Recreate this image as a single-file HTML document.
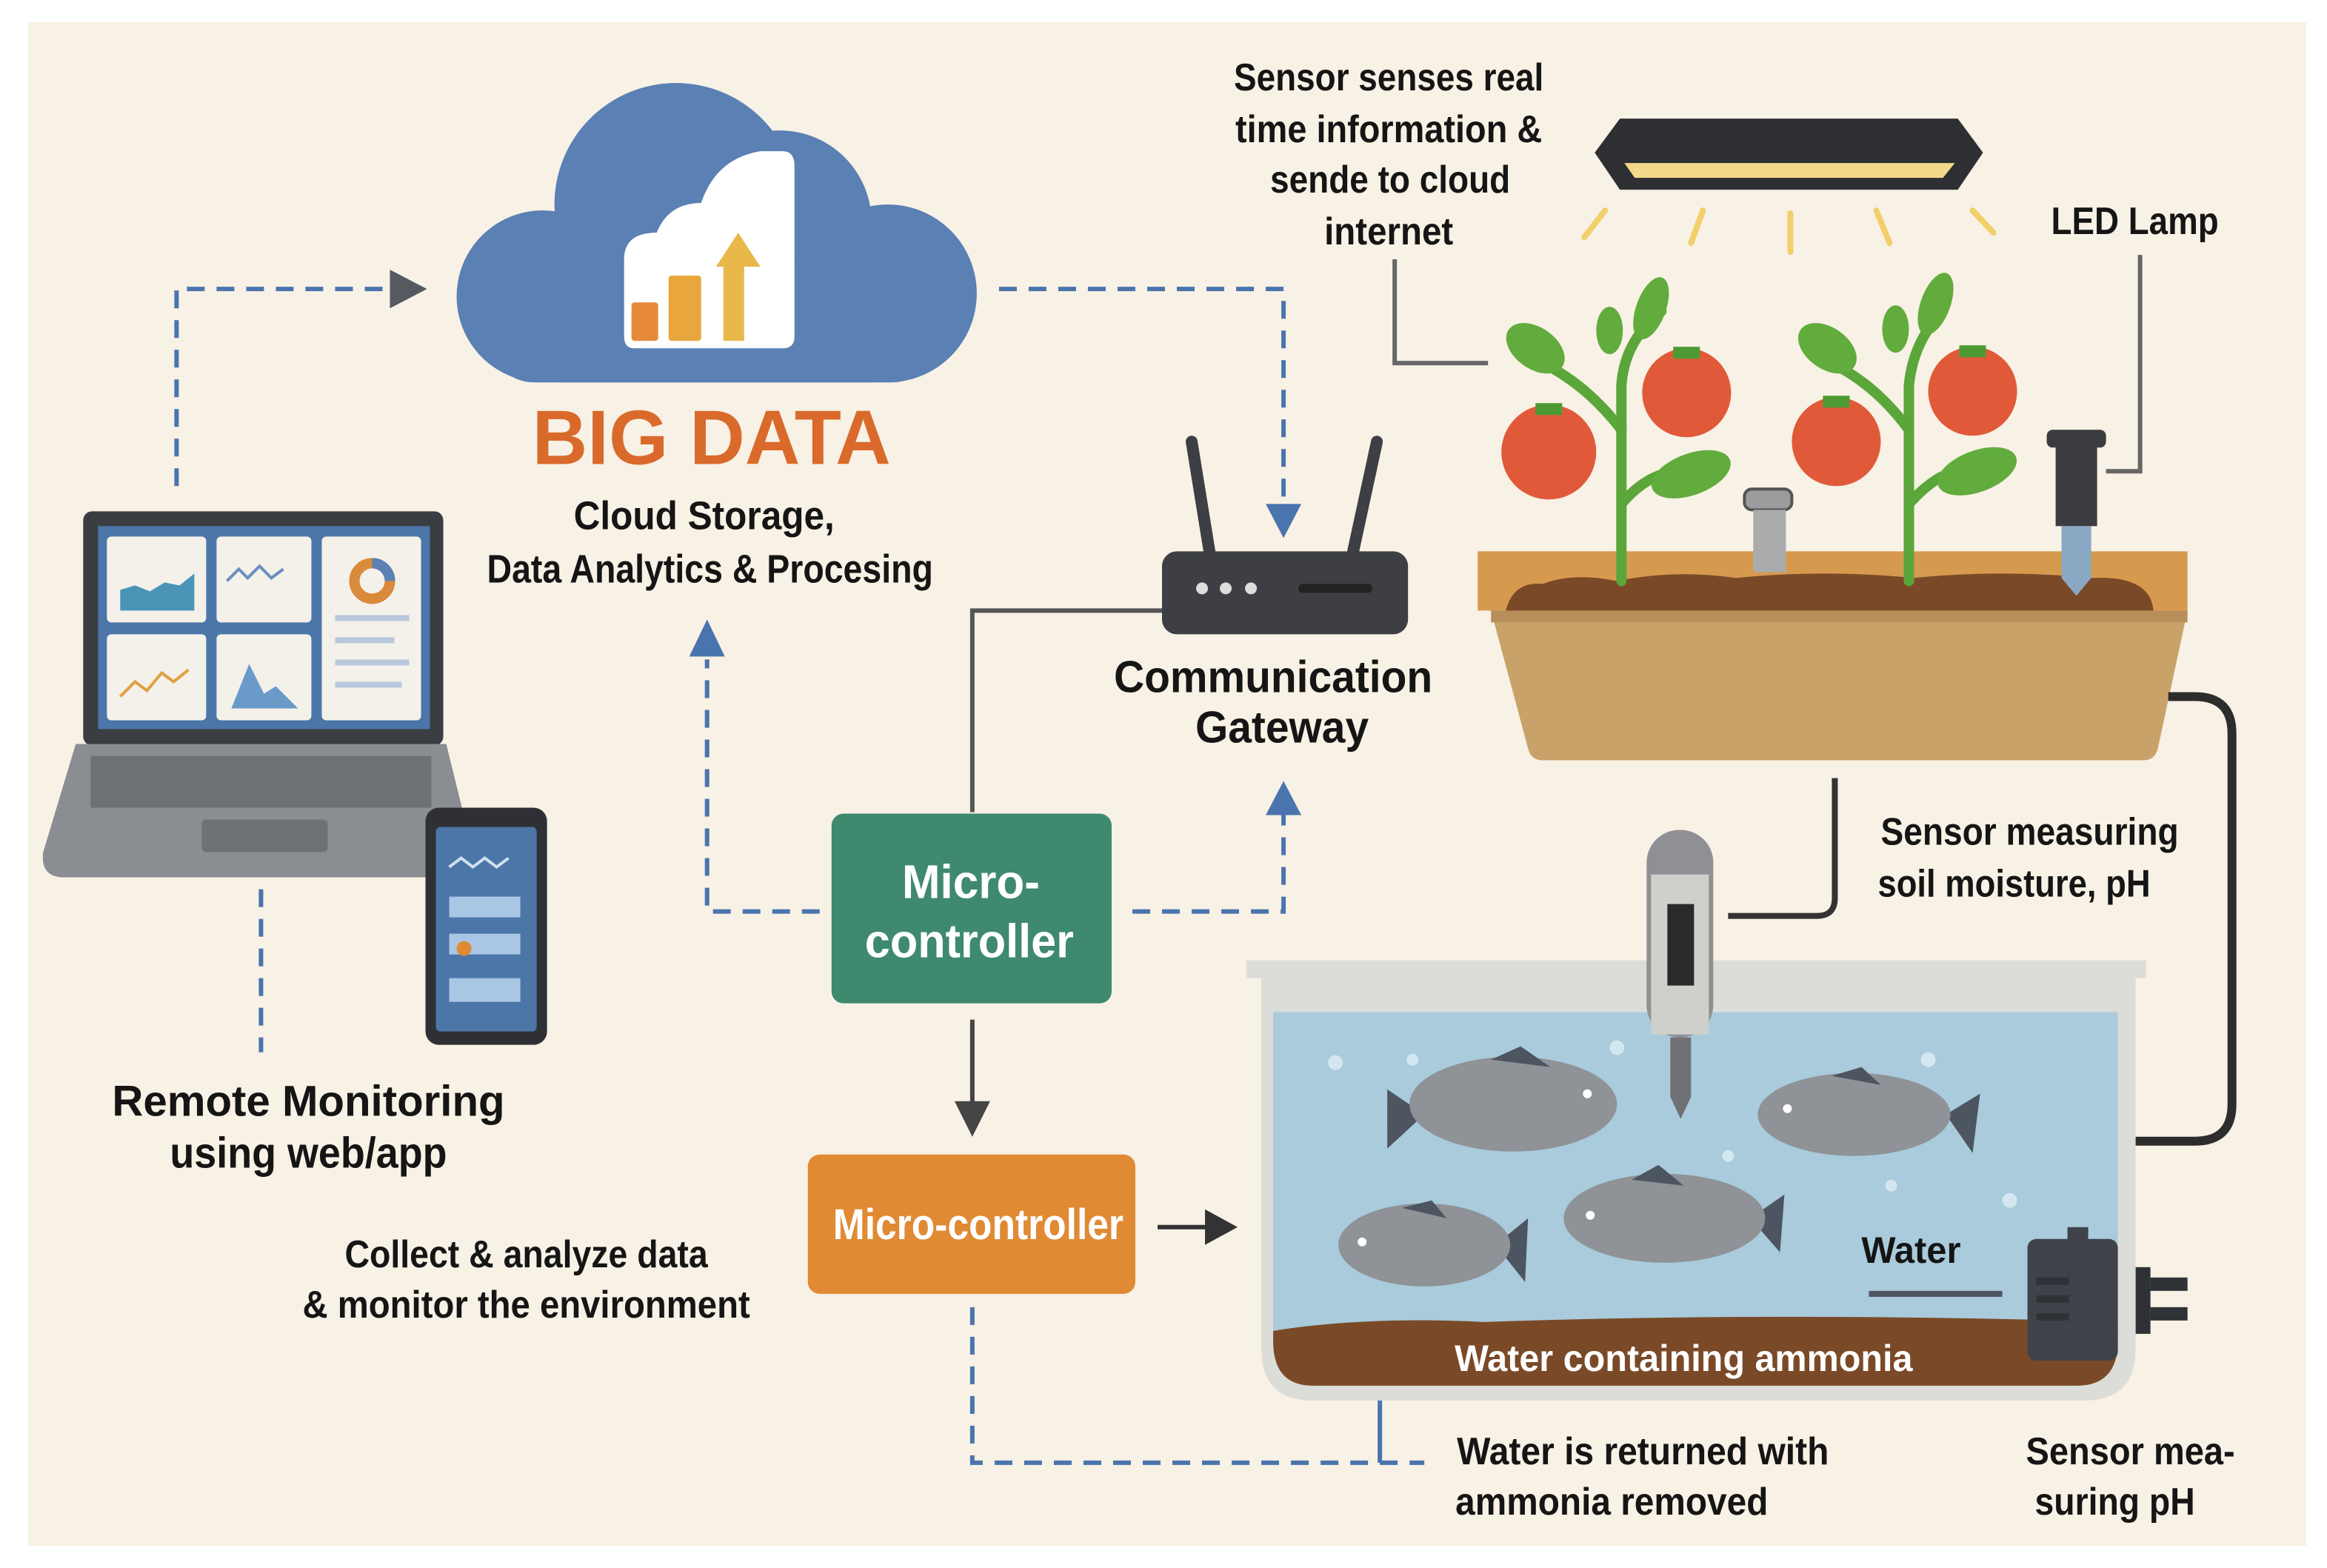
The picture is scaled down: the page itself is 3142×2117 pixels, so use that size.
<!DOCTYPE html>
<html><head><meta charset="utf-8"><style>
html,body{margin:0;padding:0;background:#fff;width:3142px;height:2117px;overflow:hidden}
svg{display:block}
text{font-family:"Liberation Sans",sans-serif;font-weight:bold;fill:#151515}
</style></head><body>
<svg width="3142" height="2117" viewBox="0 0 1568 1058" xmlns="http://www.w3.org/2000/svg">
<rect x="0" y="0" width="1568" height="1058" fill="#fff"/>
<rect x="18" y="15" width="1537" height="1028" fill="#f8f1e5"/>

<!-- Cloud -->
<g fill="#5a80b4">
<circle cx="455" cy="138" r="82"/>
<circle cx="365" cy="200" r="58"/>
<circle cx="525" cy="150" r="62"/>
<circle cx="598" cy="198" r="60"/>
<rect x="365" y="170" width="235" height="88" rx="10"/>
<rect x="330" y="200" width="300" height="58" rx="29"/>
</g>
<path d="M420 175 q0-18 22-18 q8-20 30-20 q10-30 40-35 h15 q8 0 8 10 v115 q0 8-8 8 h-100 q-7 0-7-8z" fill="#fff"/>
<rect x="425" y="204" width="18" height="26" rx="2" fill="#e68a3a"/>
<rect x="450" y="186" width="22" height="44" rx="2" fill="#e8a63c"/>
<rect x="487" y="178" width="14" height="52" fill="#e8b84a"/>
<polygon points="482,180 497,157 512,180" fill="#e8b84a"/>

<text x="479" y="313" font-size="52" text-anchor="middle" textLength="242" lengthAdjust="spacingAndGlyphs" style="fill:#d96a2b">BIG DATA</text>
<text x="474" y="357" font-size="27" text-anchor="middle" textLength="176" lengthAdjust="spacingAndGlyphs">Cloud Storage,</text>
<text x="478" y="393" font-size="27" text-anchor="middle" textLength="301" lengthAdjust="spacingAndGlyphs">Data Analytics &amp; Procesing</text>

<!-- dashed connectors -->
<g fill="none" stroke="#4a74ad" stroke-width="3" stroke-dasharray="12 8">
<path d="M118 328 V195 H262"/>
<path d="M673 195 H865 V340"/>
<path d="M552 615 H476 V445"/>
<path d="M763 615 H865 V550"/>
<path d="M175 600 V710"/>
<path d="M655 882 V987 H960"/>
</g>
<path d="M930 922 V987" stroke="#4a74ad" stroke-width="3"/>
<polygon points="262,182 287,195 262,208" fill="#555a60"/>
<polygon points="853,340 877,340 865,363" fill="#4a74ad"/>
<polygon points="464,443 488,443 476,418" fill="#4a74ad"/>
<polygon points="853,550 877,550 865,527" fill="#4a74ad"/>

<!-- Laptop -->
<rect x="55" y="345" width="243" height="158" rx="6" fill="#3a3d42"/>
<rect x="65" y="355" width="224" height="137" fill="#4c75a8"/>
<g fill="#f4f1ea">
<rect x="71" y="362" width="67" height="58" rx="3"/>
<rect x="145" y="362" width="64" height="58" rx="3"/>
<rect x="216" y="362" width="67" height="124" rx="3"/>
<rect x="71" y="428" width="67" height="58" rx="3"/>
<rect x="145" y="428" width="64" height="58" rx="3"/>
</g>
<path d="M80 412 V398 l10-3 10 4 10-6 10 2 10-8 V412z" fill="#4a94b8"/>
<path d="M152 392 l8-8 6 6 8-8 8 8 8-6" stroke="#6a8fbf" stroke-width="2" fill="none"/>
<circle cx="250" cy="392" r="12" fill="none" stroke="#d98a3a" stroke-width="7"/>
<path d="M250 380 a12 12 0 0 1 12 12" stroke="#5a80b4" stroke-width="7" fill="none"/>
<path d="M80 470 l10-10 8 6 10-12 8 6 10-8" stroke="#e0a040" stroke-width="2" fill="none"/>
<path d="M155 478 l12-30 10 20 8-5 15 15z" fill="#6a9ac8"/>
<g fill="#b8c8dc"><rect x="225" y="415" width="50" height="4"/><rect x="225" y="430" width="40" height="4"/><rect x="225" y="445" width="50" height="4"/><rect x="225" y="460" width="45" height="4"/></g>
<path d="M50 502 H300 L318 575 Q318 592 300 592 H42 Q26 592 28 575 Z" fill="#8a8d91"/>
<rect x="60" y="510" width="230" height="35" fill="#6e7175"/>
<rect x="135" y="553" width="85" height="22" rx="3" fill="#6e7175"/>
<!-- Phone -->
<rect x="286" y="545" width="82" height="160" rx="9" fill="#2e3035"/>
<rect x="293" y="558" width="68" height="138" rx="3" fill="#4c75a8"/>
<path d="M302 585 l8-6 8 6 8-6 8 6 8-6" stroke="#cfe0f0" stroke-width="2" fill="none"/>
<g fill="#a9c6e4"><rect x="302" y="605" width="48" height="14"/><rect x="302" y="630" width="48" height="14"/><rect x="302" y="660" width="48" height="16"/></g>
<circle cx="312" cy="640" r="5" fill="#e08a34"/>

<text x="207" y="753" font-size="29" text-anchor="middle" textLength="265" lengthAdjust="spacingAndGlyphs">Remote Monitoring</text>
<text x="207" y="788" font-size="29" text-anchor="middle" textLength="187" lengthAdjust="spacingAndGlyphs">using web/app</text>
<text x="354" y="855" font-size="26" text-anchor="middle" textLength="245" lengthAdjust="spacingAndGlyphs">Collect &amp; analyze data</text>
<text x="354" y="889" font-size="26" text-anchor="middle" textLength="302" lengthAdjust="spacingAndGlyphs">&amp; monitor the environment</text>

<!-- gateway links -->
<path d="M655 548 V412 H783" stroke="#555" stroke-width="3" fill="none"/>
<path d="M655 688 V745" stroke="#444" stroke-width="3"/>
<polygon points="643,743 667,743 655,767" fill="#444"/>
<path d="M780 828 H815" stroke="#333" stroke-width="3"/>
<polygon points="812,816 834,828 812,840" fill="#333"/>

<!-- Router -->
<path d="M815 372 L803 298" stroke="#3d3f44" stroke-width="8" stroke-linecap="round"/>
<path d="M912 372 L928 298" stroke="#3d3f44" stroke-width="8" stroke-linecap="round"/>
<rect x="783" y="372" width="166" height="56" rx="10" fill="#3d3f44"/>
<circle cx="810" cy="397" r="4" fill="#ddd"/><circle cx="826" cy="397" r="4" fill="#ddd"/><circle cx="843" cy="397" r="4" fill="#ddd"/>
<rect x="875" y="394" width="50" height="6" rx="3" fill="#222"/>
<text x="858" y="467" font-size="30" text-anchor="middle" textLength="215" lengthAdjust="spacingAndGlyphs">Communication</text>
<text x="864" y="501" font-size="30" text-anchor="middle" textLength="117" lengthAdjust="spacingAndGlyphs">Gateway</text>

<!-- Micro boxes -->
<rect x="560" y="549" width="189" height="128" rx="8" fill="#3f8a6e"/>
<text x="654" y="606" font-size="32" text-anchor="middle" textLength="93" lengthAdjust="spacingAndGlyphs" style="fill:#fff">Micro-</text>
<text x="653" y="646" font-size="32" text-anchor="middle" textLength="141" lengthAdjust="spacingAndGlyphs" style="fill:#fff">controller</text>
<rect x="544" y="779" width="221" height="94" rx="8" fill="#e08a34"/>
<text x="659" y="836" font-size="29" text-anchor="middle" textLength="196" lengthAdjust="spacingAndGlyphs" style="fill:#fff">Micro-controller</text>

<!-- top right text -->
<text x="936" y="61" font-size="26" text-anchor="middle" textLength="209" lengthAdjust="spacingAndGlyphs">Sensor senses real</text>
<text x="936" y="96" font-size="26" text-anchor="middle" textLength="207" lengthAdjust="spacingAndGlyphs">time information &amp;</text>
<text x="937" y="130" font-size="26" text-anchor="middle" textLength="162" lengthAdjust="spacingAndGlyphs">sende to cloud</text>
<text x="936" y="165" font-size="26" text-anchor="middle" textLength="87" lengthAdjust="spacingAndGlyphs">internet</text>
<path d="M940 175 V245 H1003" stroke="#666" stroke-width="3" fill="none"/>

<!-- LED Lamp -->
<path d="M1092 80 H1320 L1337 103 L1320 128 H1092 L1075 103 Z" fill="#2e2f33"/>
<path d="M1095 110 H1318 L1310 120 H1102 Z" fill="#f5d98a"/>
<g stroke="#f2cf6a" stroke-width="4" stroke-linecap="round">
<path d="M1082 142 L1068 160"/><path d="M1148 142 L1140 164"/><path d="M1207 144 V170"/><path d="M1265 142 L1274 164"/><path d="M1330 142 L1344 157"/>
</g>
<text x="1383" y="158" font-size="26" textLength="113" lengthAdjust="spacingAndGlyphs">LED Lamp</text>
<path d="M1443 172 V318 H1420" stroke="#666" stroke-width="3" fill="none"/>

<!-- Planter -->
<path d="M1005 412 H1475 L1455 505 Q1453 513 1445 513 H1040 Q1032 513 1030 505 Z" fill="#c9a26a"/>
<rect x="996" y="372" width="479" height="40" fill="#d69a4f"/>
<rect x="1005" y="412" width="470" height="8" fill="#b88f5a"/>
<path d="M1015 412 Q1020 392 1040 394 Q1060 386 1090 392 Q1130 384 1170 390 Q1230 384 1290 390 Q1350 384 1410 390 Q1450 388 1452 412 Z" fill="#7a4a28"/>
<g stroke="#5aa63a" stroke-width="7" fill="none" stroke-linecap="round">
<path d="M1093 392 V260 Q1095 230 1120 210"/><path d="M1093 290 Q1070 260 1040 245"/><path d="M1093 340 Q1110 320 1130 318"/>
<path d="M1287 392 V260 Q1290 230 1310 210"/><path d="M1287 290 Q1265 260 1235 245"/><path d="M1287 340 Q1305 320 1320 318"/>
</g>
<g fill="#62ac3e">
<ellipse cx="1035" cy="235" rx="22" ry="14" transform="rotate(35 1035 235)"/>
<ellipse cx="1113" cy="208" rx="10" ry="22" transform="rotate(20 1113 208)"/>
<ellipse cx="1085" cy="223" rx="9" ry="16"/>
<ellipse cx="1140" cy="320" rx="28" ry="14" transform="rotate(-20 1140 320)"/>
<ellipse cx="1232" cy="235" rx="22" ry="14" transform="rotate(35 1232 235)"/>
<ellipse cx="1305" cy="205" rx="10" ry="22" transform="rotate(20 1305 205)"/>
<ellipse cx="1278" cy="222" rx="9" ry="16"/>
<ellipse cx="1333" cy="318" rx="28" ry="14" transform="rotate(-20 1333 318)"/>
</g>
<g fill="#e05a3a">
<circle cx="1044" cy="305" r="32"/><circle cx="1137" cy="265" r="30"/><circle cx="1238" cy="298" r="30"/><circle cx="1330" cy="264" r="30"/>
</g>
<g fill="#4d9a34"><rect x="1035" y="272" width="18" height="8"/><rect x="1128" y="234" width="18" height="8"/><rect x="1229" y="267" width="18" height="8"/><rect x="1321" y="233" width="18" height="8"/></g>
<rect x="1176" y="330" width="32" height="14" rx="5" fill="#9a9c9e" stroke="#555" stroke-width="2"/>
<rect x="1182" y="344" width="22" height="42" fill="#a9abad"/>
<rect x="1380" y="290" width="40" height="12" rx="4" fill="#3a3c40"/>
<rect x="1386" y="300" width="28" height="55" fill="#3a3c40"/>
<polygon points="1390,355 1410,355 1410,390 1400,402 1390,390" fill="#8aa8c4"/>
<path d="M1462 470 H1480 Q1505 470 1505 495 V745 Q1505 770 1480 770 H1420 Q1400 770 1400 790 V830" stroke="#2d2d2d" stroke-width="6" fill="none"/>

<!-- Tank -->
<path d="M840 648 H1447 V660 H1440 V910 Q1440 945 1405 945 H885 Q850 945 850 910 V660 H840 Z" fill="#dcdcd8"/>
<rect x="858" y="683" width="570" height="222" fill="#a9cbdc"/>
<path d="M858 898 Q920 888 1000 892 Q1200 885 1428 892 V905 Q1428 935 1400 935 H885 Q858 935 858 905 Z" fill="#7a4a28"/>
<text x="1135" y="925" font-size="25" text-anchor="middle" textLength="309" lengthAdjust="spacingAndGlyphs" style="fill:#fff">Water containing ammonia</text>
<g fill="#d4e6ef"><circle cx="900" cy="717" r="5"/><circle cx="952" cy="715" r="4"/><circle cx="1300" cy="715" r="5"/><circle cx="1090" cy="707" r="5"/><circle cx="1355" cy="810" r="5"/><circle cx="1165" cy="780" r="4"/><circle cx="1275" cy="800" r="4"/><circle cx="1025" cy="838" r="4"/></g>
<g>
<polygon points="935,735 960,752 935,775" fill="#4d5560"/>
<ellipse cx="1020" cy="745" rx="70" ry="32" fill="#8f9296"/>
<path d="M1005 715 L1025 706 L1045 720Z" fill="#4d5560"/>
<circle cx="1070" cy="738" r="3" fill="#fff"/>
<polygon points="1335,738 1312,752 1330,778" fill="#4d5560"/>
<ellipse cx="1250" cy="752" rx="65" ry="28" fill="#8f9296"/>
<path d="M1235 726 L1255 720 L1268 732Z" fill="#4d5560"/>
<circle cx="1205" cy="748" r="3" fill="#fff"/>
<polygon points="1030,822 1008,840 1028,865" fill="#4d5560"/>
<ellipse cx="960" cy="840" rx="58" ry="28" fill="#8f9296"/>
<path d="M945 815 L965 810 L975 822Z" fill="#4d5560"/>
<circle cx="918" cy="838" r="3" fill="#fff"/>
<polygon points="1203,806 1180,822 1200,845" fill="#4d5560"/>
<ellipse cx="1122" cy="822" rx="68" ry="30" fill="#8f9296"/>
<path d="M1100 796 L1118 786 L1135 800Z" fill="#4d5560"/>
<circle cx="1072" cy="820" r="3" fill="#fff"/>
</g>
<rect x="1110" y="560" width="45" height="140" rx="22" fill="#8e9093"/>
<rect x="1113" y="590" width="39" height="108" fill="#cfcfcc"/>
<rect x="1124" y="610" width="18" height="55" fill="#2a2a2a"/>
<polygon points="1126,700 1140,700 1140,740 1133,755 1126,740" fill="#6f7174"/>
<path d="M1165 618 H1225 Q1237 618 1237 606 V525" stroke="#333" stroke-width="4" fill="none"/>
<text x="1268" y="570" font-size="26" textLength="201" lengthAdjust="spacingAndGlyphs">Sensor measuring</text>
<text x="1266" y="605" font-size="26" textLength="184" lengthAdjust="spacingAndGlyphs">soil moisture, pH</text>
<text x="1255" y="852" font-size="25" textLength="67" lengthAdjust="spacingAndGlyphs">Water</text>
<path d="M1260 873 H1350" stroke="#4d5560" stroke-width="4"/>
<rect x="1394" y="828" width="14" height="10" fill="#3f4349"/>
<rect x="1367" y="836" width="61" height="82" rx="6" fill="#3f4349"/>
<g fill="#2e3136"><rect x="1373" y="862" width="22" height="5"/><rect x="1373" y="874" width="22" height="5"/><rect x="1373" y="886" width="22" height="5"/></g>
<rect x="1440" y="855" width="10" height="45" fill="#2e3136"/>
<rect x="1450" y="862" width="25" height="9" fill="#2e3136"/><rect x="1450" y="882" width="25" height="9" fill="#2e3136"/>
<text x="982" y="988" font-size="26" textLength="251" lengthAdjust="spacingAndGlyphs">Water is returned with</text>
<text x="981" y="1022" font-size="26" textLength="211" lengthAdjust="spacingAndGlyphs">ammonia removed</text>
<text x="1366" y="988" font-size="26" textLength="141" lengthAdjust="spacingAndGlyphs">Sensor mea-</text>
<text x="1372" y="1022" font-size="26" textLength="108" lengthAdjust="spacingAndGlyphs">suring pH</text>
</svg>
</body></html>
